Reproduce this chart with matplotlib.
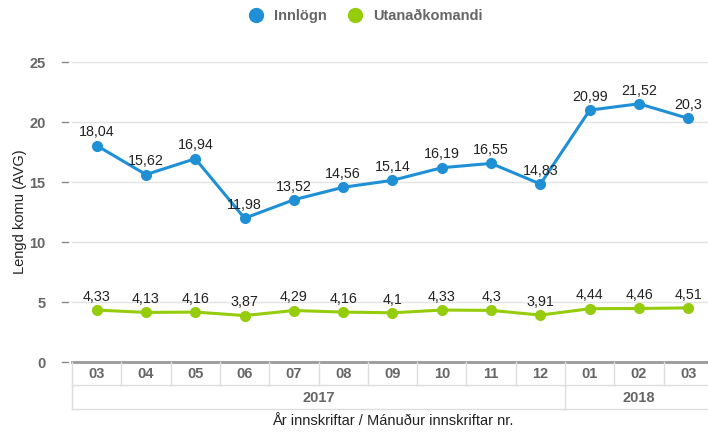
import matplotlib
matplotlib.use("Agg")
import matplotlib.pyplot as plt
from matplotlib.lines import Line2D

months = ["03", "04", "05", "06", "07", "08", "09", "10", "11", "12", "01", "02", "03"]
years = ["2017", "2018"]
year_spans = [10, 3]
innlogn = [18.04, 15.62, 16.94, 11.98, 13.52, 14.56, 15.14, 16.19, 16.55, 14.83, 20.99, 21.52, 20.3]
utan = [4.33, 4.13, 4.16, 3.87, 4.29, 4.16, 4.1, 4.33, 4.3, 3.91, 4.44, 4.46, 4.51]
series_names = ["Innlögn", "Utanaðkomandi"]
yticks = [0, 5, 10, 15, 20, 25]

BLUE = "#1f8fd6"
GREEN = "#95cc0c"
W, H = 708, 434
plt.rcParams['font.family'] = ['Liberation Sans', 'DejaVu Sans']

fig = plt.figure(figsize=(W / 100, H / 100), dpi=100)
left, right, top, bottom = 72, 713, 62, 362
ax = fig.add_axes([left / W, 1 - bottom / H, (right - left) / W, (bottom - top) / H])
ax.set_xlim(-0.5, len(months) - 0.5)
ax.set_ylim(0, 25)
ax.set_facecolor("white")
for s in ax.spines.values():
    s.set_visible(False)
ax.set_xticks([])
ax.set_yticks(yticks)
ax.tick_params(axis='y', length=0, pad=19)
ax.set_yticklabels([str(t) for t in yticks], fontsize=10.5, fontweight='bold', color="#666666")
for t in yticks:
    ax.plot([-0.5 - 10 / 49.3, -0.5 - 4 / 49.3], [t, t], color="#888888", lw=1, clip_on=False)
for t in yticks[1:]:
    ax.axhline(t, color="#e3e3e3", lw=1, zorder=0)
ax.axhline(0, color="#999999", lw=2, zorder=1, clip_on=False)

x = list(range(len(months)))
ax.plot(x, innlogn, color=BLUE, lw=2.2, marker='o', ms=7, zorder=3, clip_on=False)
ax.plot(x, utan, color=GREEN, lw=2.2, marker='o', ms=7, zorder=3, clip_on=False)

def fmt(v):
    s = ("%.2f" % v).rstrip('0').rstrip('.')
    return s.replace('.', ',')

for xi, v in zip(x, innlogn):
    ax.annotate(fmt(v), (xi, v), xytext=(0, 4.5), textcoords='offset points',
                ha='center', va='bottom', fontsize=10.3, color="#222222", zorder=4)
for xi, v in zip(x, utan):
    ax.annotate(fmt(v), (xi, v), xytext=(0, 4.5), textcoords='offset points',
                ha='center', va='bottom', fontsize=10.3, color="#222222", zorder=4)

ax.set_ylabel("Lengd komu (AVG)", fontsize=10.5, color="#222222")
ax.yaxis.set_label_coords(-45 / (right - left), 0.5)

trans = ax.get_xaxis_transform()
def ypix(p):
    return (bottom - p) / (bottom - top)

r1, r2 = 385, 409
gc = "#dddddd"
for i, m in enumerate(months):
    ax.text(i, ypix((bottom + r1) / 2 + 1), m, transform=trans, ha='center', va='center',
            fontsize=10.5, fontweight='bold', color="#666666", clip_on=False)
    ax.add_line(Line2D([i - 0.5, i - 0.5], [ypix(bottom), ypix(r1)], transform=trans,
                       color=gc, lw=1, clip_on=False))
ax.add_line(Line2D([-0.5, len(months) - 0.5], [ypix(r1), ypix(r1)], transform=trans,
                   color=gc, lw=1, clip_on=False))
ax.add_line(Line2D([-0.5, len(months) - 0.5], [ypix(r2), ypix(r2)], transform=trans,
                   color=gc, lw=1, clip_on=False))
start = 0
for yname, span in zip(years, year_spans):
    ax.add_line(Line2D([start - 0.5, start - 0.5], [ypix(r1), ypix(r2)], transform=trans,
                       color=gc, lw=1, clip_on=False))
    ax.text(start + (span - 1) / 2, ypix((r1 + r2) / 2 + 1), yname, transform=trans,
            ha='center', va='center', fontsize=10.5, fontweight='bold', color="#666666",
            clip_on=False)
    start += span

ax.text((len(months) - 1) / 2, ypix(421), "År innskriftar / Mánuður innskriftar nr.",
        transform=trans, ha='center', va='center', fontsize=10.5, color="#222222", clip_on=False)

handles = [Line2D([], [], color=BLUE, marker='o', ls='none', ms=10),
           Line2D([], [], color=GREEN, marker='o', ls='none', ms=10)]
leg = fig.legend(handles, series_names, loc='center', bbox_to_anchor=(362 / W, 1 - 16 / H),
                 ncol=2, frameon=False, handletextpad=0.2, columnspacing=1.0,
                 prop={'weight': 'bold', 'size': 10.5})
for t in leg.get_texts():
    t.set_color("#666666")

fig.savefig("out.png", dpi=100, facecolor="white")
